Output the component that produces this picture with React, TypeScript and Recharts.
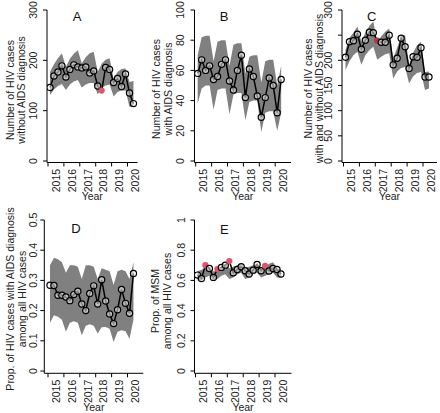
import React from 'react';
import { ComposedChart, Area, Line, XAxis, YAxis } from 'recharts';

const W = 440;
const H = 413;
const FONT = '"Liberation Sans", Arial, Helvetica, sans-serif';
const PX_PER_YEAR = 15.9;
const BAND = '#808080';
const OUT_RED = '#DF536B';

// quarter midpoints, 2015 Q1 .. 2020 Q2
const quarters = [
  2015.125, 2015.375, 2015.625, 2015.875, 2016.125, 2016.375, 2016.625, 2016.875,
  2017.125, 2017.375, 2017.625, 2017.875, 2018.125, 2018.375, 2018.625, 2018.875,
  2019.125, 2019.375, 2019.625, 2019.875, 2020.125, 2020.375,
];
const yearTicks = [2015, 2016, 2017, 2018, 2019, 2020];

// A: without AIDS diagnosis
const aCases = [146, 169, 177, 189, 167, 182, 191, 187, 185, 187, 175, 179, 149, 140, 186, 182, 156, 164, 148, 173, 135, 114];
const aLow = [131, 142, 149, 153, 141, 152, 158, 161, 146, 152, 155, 155, 132, 145, 150, 152, 128, 137, 140, 140, 108, 108];
const aHigh = [177, 192, 204, 214, 187, 203, 213, 220, 194, 206, 214, 217, 177, 193, 201, 204, 164, 177, 183, 184, 157, 159];
const aOutside = [13];

// B: with AIDS diagnosis
const bCases = [58, 67, 60, 63, 54, 56, 64, 67, 53, 47, 60, 70, 42, 61, 56, 43, 29, 42, 55, 50, 32, 54];
const bLow = [38, 48, 50, 50, 34, 47, 48, 48, 31, 44, 45, 45, 27, 39, 40, 40, 19, 32, 33, 33, 20, 32];
const bHigh = [70, 82, 83, 83, 66, 79, 80, 80, 63, 77, 78, 78, 58, 69, 70, 70, 52, 66, 67, 67, 50, 63];
const bOutside: number[] = [];

// C: all cases
const cCases = [206, 237, 239, 252, 222, 240, 256, 255, 239, 236, 236, 250, 191, 204, 244, 227, 184, 207, 206, 225, 167, 167];
const cLow = [181, 198, 210, 217, 191, 210, 220, 227, 201, 207, 212, 214, 164, 178, 185, 187, 154, 168, 175, 177, 141, 144];
const cHigh = [220, 245, 255, 267, 237, 255, 268, 277, 234, 248, 257, 263, 204, 225, 248, 250, 191, 215, 230, 237, 177, 178];
const cOutside = [8];

// D: share with AIDS diagnosis
const dProp = [0.284, 0.283, 0.251, 0.251, 0.245, 0.233, 0.253, 0.264, 0.222, 0.2, 0.257, 0.282, 0.222, 0.302, 0.232, 0.189, 0.157, 0.203, 0.27, 0.224, 0.191, 0.323];
const dLow = [0.16, 0.185, 0.18, 0.17, 0.13, 0.16, 0.165, 0.16, 0.118, 0.15, 0.155, 0.15, 0.124, 0.145, 0.146, 0.14, 0.096, 0.13, 0.135, 0.132, 0.107, 0.17];
const dHigh = [0.35, 0.375, 0.37, 0.36, 0.325, 0.35, 0.35, 0.345, 0.305, 0.35, 0.35, 0.345, 0.305, 0.34, 0.335, 0.33, 0.285, 0.33, 0.335, 0.33, 0.305, 0.36];
const dOutside: number[] = [];

// E: share MSM
const eProp = [0.635, 0.613, 0.701, 0.679, 0.62, 0.675, 0.686, 0.701, 0.728, 0.65, 0.672, 0.69, 0.664, 0.642, 0.668, 0.706, 0.664, 0.697, 0.662, 0.679, 0.672, 0.642];
const eLow = [0.6, 0.6, 0.62, 0.63, 0.6, 0.61, 0.63, 0.64, 0.61, 0.62, 0.64, 0.65, 0.61, 0.62, 0.64, 0.65, 0.62, 0.63, 0.64, 0.65, 0.62, 0.62];
const eHigh = [0.66, 0.67, 0.68, 0.69, 0.66, 0.66, 0.69, 0.71, 0.68, 0.69, 0.7, 0.71, 0.68, 0.69, 0.7, 0.71, 0.68, 0.69, 0.71, 0.72, 0.68, 0.67];
const eOutside = [2, 5, 8, 17];

const ROW1 = { top: 10, zero: 161, bottom: 162.5 };
const ROW2 = { top: 220, zero: 371, bottom: 373.3 };

const txt = { fontFamily: FONT, fontSize: 10.5, fill: '#222' };

const XTick = (props: any) => {
  const { x, payload, axisY } = props;
  return (
    <text
      transform={`translate(${x + PX_PER_YEAR / 2},${axisY + 6.4}) rotate(-90)`}
      textAnchor="end"
      dy="0.36em"
      {...txt}
    >
      {payload.value}
    </text>
  );
};

const YTick = (props: any) => {
  const { y, payload, labelX, skip } = props;
  if (skip && skip.includes(payload.value)) return <g />;
  return (
    <text transform={`translate(${labelX},${y}) rotate(-90)`} textAnchor="middle" dy="0.36em" {...txt}>
      {String(payload.value)}
    </text>
  );
};

const YTitle = (props: any) => {
  const { lines, xs, cy } = props;
  return (
    <g>
      {lines.map((s: string, i: number) => (
        <text key={i} transform={`translate(${xs[i]},${cy}) rotate(-90)`} textAnchor="middle" dy="0.36em" {...txt}>
          {s}
        </text>
      ))}
    </g>
  );
};

const XTitle = (props: any) => {
  const { cx, axisY, letter, lx, ly } = props;
  return (
    <g>
      <text x={cx} y={axisY + 37.8} textAnchor="middle" {...txt}>Year</text>
      <text x={lx} y={ly + 4.7} textAnchor="middle" fontFamily={FONT} fontSize={13} fill="#111">{letter}</text>
    </g>
  );
};

function Panel({ p }: { p: any }) {
  const data = quarters.map((t, i) => ({
    t,
    v: p.values[i],
    band: [p.low[i], p.high[i]],
    out: p.outside.includes(i),
  }));
  const xMin = 2015 - (p.tick0 - p.left) / PX_PER_YEAR;
  const xMax = 2015 + (p.right - p.tick0) / PX_PER_YEAR;
  const yMin = (-(p.row.bottom - p.row.zero) / (p.row.zero - p.row.top)) * p.yMax;

  const renderDot = (d: any) => {
    const { cx, cy, payload, index } = d;
    if (payload.out) {
      return <circle key={`o${index}`} cx={cx} cy={cy} r={3.1} fill={p.outColor} stroke="none" />;
    }
    return (
      <circle key={`p${index}`} cx={cx} cy={cy} r={3.1} fill="#fff" fillOpacity={0.5} stroke="#000" strokeWidth={1.2} />
    );
  };

  return (
    <div style={{ position: 'absolute', left: 0, top: 0 }}>
      <ComposedChart
        width={W}
        height={H}
        data={data}
        margin={{ top: p.row.top, right: W - p.right, bottom: 0, left: 0 }}
      >
        <XAxis
          type="number"
          dataKey="t"
          domain={[xMin, xMax]}
          allowDataOverflow
          ticks={yearTicks}
          interval={0}
          height={H - p.row.bottom}
          tickSize={4}
          tickMargin={0}
          stroke="#000"
          tick={<XTick axisY={p.row.bottom} />}
          label={
            <XTitle
              cx={(p.left + p.right) / 2}
              axisY={p.row.bottom}
              letter={p.letter}
              lx={p.letterX}
              ly={p.letterY}
            />
          }
        />
        <YAxis
          type="number"
          domain={[yMin, p.yMax]}
          allowDataOverflow
          ticks={p.yTicks}
          interval={0}
          width={p.left}
          tickSize={4}
          tickMargin={0}
          stroke="#000"
          tick={<YTick labelX={p.tickLabelX} skip={p.skip} />}
          label={<YTitle lines={p.title} xs={p.titleX} cy={p.titleY} />}
        />
        <Area dataKey="band" type="linear" fill={BAND} fillOpacity={1} stroke="none" isAnimationActive={false} />
        <Line
          dataKey="v"
          type="linear"
          stroke="#000"
          strokeWidth={1.5}
          dot={renderDot}
          activeDot={false}
          isAnimationActive={false}
        />
      </ComposedChart>
    </div>
  );
}

const panels = [
  {
    letter: 'A', letterX: 77, letterY: 16.5, row: ROW1,
    left: 47, right: 137.5, tick0: 48, tickLabelX: 33.3,
    yMax: 300, yTicks: [0, 100, 200, 300], skip: [],
    title: ['Number of HIV cases', 'without AIDS diagnosis'], titleX: [10, 21.5], titleY: 90,
    values: aCases, low: aLow, high: aHigh, outside: aOutside, outColor: OUT_RED,
  },
  {
    letter: 'B', letterX: 224, letterY: 16.5, row: ROW1,
    left: 194.5, right: 291, tick0: 195.7, tickLabelX: 180.5,
    yMax: 100, yTicks: [0, 20, 40, 60, 80, 100], skip: [],
    title: ['Number of HIV cases', 'with AIDS diagnosis'], titleX: [156, 168], titleY: 89,
    values: bCases, low: bLow, high: bHigh, outside: bOutside, outColor: OUT_RED,
  },
  {
    letter: 'C', letterX: 371.7, letterY: 16.5, row: ROW1,
    left: 342, right: 437, tick0: 343.5, tickLabelX: 328.3,
    yMax: 300, yTicks: [0, 50, 100, 150, 200, 250, 300], skip: [250],
    title: ['Number of HIV cases', 'with and without AIDS diagnosis'], titleX: [308, 319.5], titleY: 88.5,
    values: cCases, low: cLow, high: cHigh, outside: cOutside, outColor: '#B0364F',
  },
  {
    letter: 'D', letterX: 76, letterY: 228.5, row: ROW2,
    left: 44.3, right: 143.3, tick0: 48, tickLabelX: 33.3,
    yMax: 0.5, yTicks: [0, 0.1, 0.2, 0.3, 0.4, 0.5], skip: [],
    title: ['Prop. of HIV cases with AIDS diagnosis', 'among all HIV cases'], titleX: [10, 22.5], titleY: 299,
    values: dProp, low: dLow, high: dHigh, outside: dOutside, outColor: OUT_RED,
  },
  {
    letter: 'E', letterX: 224.3, letterY: 229, row: ROW2,
    left: 194.5, right: 291.5, tick0: 195.5, tickLabelX: 181.5,
    yMax: 1, yTicks: [0, 0.2, 0.4, 0.6, 0.8, 1], skip: [],
    title: ['Prop. of MSM', 'among all HIV cases'], titleX: [155.5, 167.7], titleY: 301,
    values: eProp, low: eLow, high: eHigh, outside: eOutside, outColor: OUT_RED,
  },
];

export default function App() {
  return (
    <div style={{ position: 'absolute', left: 0, top: 0, width: W, height: H, background: '#fff' }}>
      {panels.map((p) => (
        <Panel key={p.letter} p={p} />
      ))}
    </div>
  );
}
